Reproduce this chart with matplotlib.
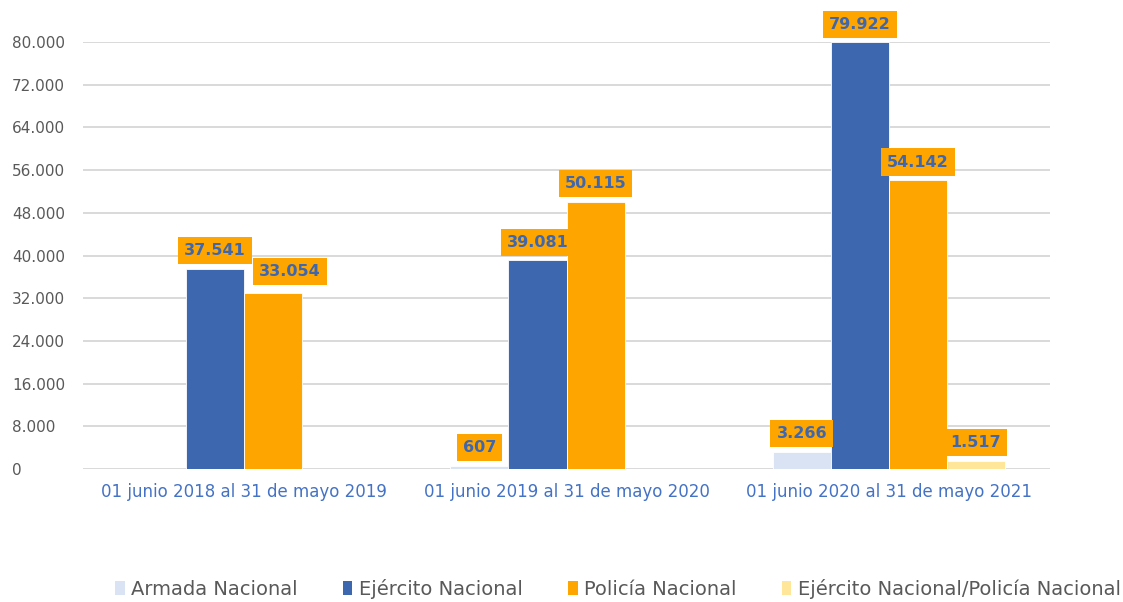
import matplotlib
matplotlib.use("Agg")
import matplotlib.pyplot as plt
from matplotlib.patches import Patch
import numpy as np

categories = ["01 junio 2018 al 31 de mayo 2019",
              "01 junio 2019 al 31 de mayo 2020",
              "01 junio 2020 al 31 de mayo 2021"]
series_names = ["Armada Nacional", "Ejército Nacional", "Policía Nacional",
                "Ejército Nacional/Policía Nacional"]
armada = [None, 607, 3266]
ejercito = [37541, 39081, 79922]
policia = [33054, 50115, 54142]
ejercito_policia = [None, None, 1517]
series_values = [armada, ejercito, policia, ejercito_policia]
yticks = [0, 8000, 16000, 24000, 32000, 40000, 48000, 56000, 64000, 72000, 80000]
ytick_labels = ["0", "8.000", "16.000", "24.000", "32.000", "40.000", "48.000",
                "56.000", "64.000", "72.000", "80.000"]

colors = ["#dae3f3", "#3d68b0", "#ffa500", "#ffe699"]
label_color = "#3f67ad"

fig = plt.figure(figsize=(11.23, 6.02), dpi=100)
ax = fig.add_axes([83/1123, 1-469/602, 967/1123, (469-42)/602])

x = np.arange(len(categories))
w = 0.18
offsets = [-1.5, -0.5, 0.5, 1.5]

# label nudges (pixels) to avoid overlap, as in reference
nudge = {(2, 0): (17, 3)}

for si, (vals, col) in enumerate(zip(series_values, colors)):
    for ci, v in enumerate(vals):
        if v is None:
            continue
        xpos = x[ci] + offsets[si] * w
        ax.bar(xpos, v, width=w, color=col, edgecolor="white", linewidth=0.6, zorder=3)
        dx, dy = nudge.get((si, ci), (0, 0))
        txt = f"{v:,}".replace(",", ".")
        ax.annotate(txt, (xpos, v), xytext=(dx, 18 + dy), textcoords="offset pixels",
                    ha="center", va="center", fontsize=11.5, fontweight="bold",
                    color=label_color, zorder=5, annotation_clip=False,
                    bbox=dict(boxstyle="square,pad=0.38", fc="#ffa500", ec="none"))

ax.set_xlim(-0.5, 2.5)
ax.set_ylim(0, 80000)
ax.set_yticks(yticks)
ax.set_yticklabels(ytick_labels, fontsize=11, color="#595959")
ax.set_xticks(x)
ax.set_xticklabels(categories, fontsize=12, color="#4472c4")
ax.tick_params(axis="both", length=0)
ax.tick_params(axis="x", pad=10)
for s in ax.spines.values():
    s.set_visible(False)
ax.yaxis.grid(True, color="#d9d9d9", linewidth=1.4, zorder=0)
ax.set_axisbelow(True)
for lbl in ax.get_yticklabels():
    lbl.set_horizontalalignment("left")
ax.yaxis.set_tick_params(pad=51)

handles = [Patch(facecolor=c, edgecolor="none") for c in colors]
fig.legend(handles, series_names, loc="center", bbox_to_anchor=(618/1123, 1-589/602),
           ncol=4, frameon=False, fontsize=14, handlelength=0.5, handleheight=0.75,
           handletextpad=0.35, columnspacing=2.3, labelcolor="#595959",
           borderpad=0.1)

fig.savefig("out.png", dpi=100)
